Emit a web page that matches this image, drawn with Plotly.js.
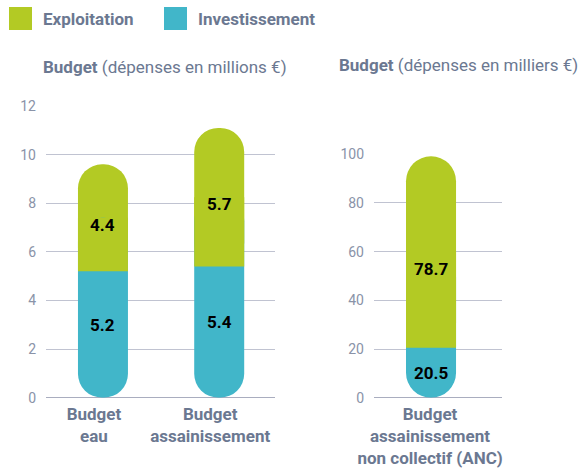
<!DOCTYPE html>
<html>
<head>
<meta charset="utf-8">
<script src="https://cdn.plot.ly/plotly-3.0.1.min.js"></script>
<style>html,body{margin:0;padding:0;background:#fff;}#chart{width:588px;height:468px;}</style>
</head>
<body>
<div id="chart"></div>
<script>
// ---- Data ----
const seriesNames = ['Exploitation', 'Investissement'];
const categoriesLeft = ['Budget<br>eau', 'Budget<br>assainissement'];
const exploitationLeft = [4.4, 5.7];
const investLeft = [5.2, 5.4];
const categoriesRight = ['Budget<br>assainissement<br>non collectif (ANC)'];
const exploitationRight = [78.7];
const investRight = [20.5];
const titleLeft = '<b>Budget</b> (dépenses en millions €)';
const titleRight = '<b>Budget</b> (dépenses en milliers €)';
const tickValsLeft = [0, 2, 4, 6, 8, 10, 12];
const tickValsRight = [0, 20, 40, 60, 80, 100];

// ---- Style ----
const GREEN = '#b3ca24';
const BLUE = '#41b6c9';
const LABEL = '#6b7891';
const TICK = '#8a93a8';
const GRID = '#c0c3d1';
const FONT = 'Roboto, "DejaVu Sans", sans-serif';
const BW = 0.43;

// Pill-shaped stacked bars: green segment rounded on top, blue rounded at the bottom,
// with a flat join between the two segments.
function pill(cats, inv, expl, xa, ya) {
  const common = {type: 'bar', x: cats, width: BW, hoverinfo: 'skip', showlegend: false, xaxis: xa, yaxis: ya};
  return [
    // green segment (rounded ends; its lower end gets covered below)
    Object.assign({}, common, {name: seriesNames[0], base: inv, y: expl,
      marker: {color: GREEN, cornerradius: '50%', line: {width: 0}}}),
    // blue segment, rounded at both ends; its top end is hidden under the flat green piece
    Object.assign({}, common, {name: seriesNames[1], base: inv.map(() => 0), y: inv.map((v, i) => v + expl[i] / 2),
      marker: {color: BLUE, cornerradius: '50%', line: {width: 0}}}),
    // flat green piece starting at the top of the blue segment
    Object.assign({}, common, {name: seriesNames[0], base: inv, y: expl.map(v => v / 2),
      marker: {color: GREEN, cornerradius: 0, line: {width: 0}}})
  ];
}

function labels(cats, inv, expl, xa, ya, shiftBottom, shiftTop) {
  const out = [];
  cats.forEach((c, i) => {
    out.push({xref: xa, yref: ya, x: c, y: inv[i] / 2, yshift: shiftBottom, showarrow: false,
      text: '<b>' + inv[i].toFixed(1) + '</b>', font: {family: FONT, size: 17, color: '#000'}});
    out.push({xref: xa, yref: ya, x: c, y: inv[i] + expl[i] / 2, yshift: shiftTop, showarrow: false,
      text: '<b>' + expl[i].toFixed(1) + '</b>', font: {family: FONT, size: 17, color: '#000'}});
  });
  return out;
}

const data = [].concat(
  pill(categoriesLeft, investLeft, exploitationLeft, 'x', 'y'),
  pill(categoriesRight, investRight, exploitationRight, 'x2', 'y2')
);

const W = 588, H = 468;
const px = v => v / W, py = v => (H - v) / H;

const yBase = {
  showgrid: true, gridcolor: GRID, gridwidth: 1, zeroline: true, zerolinecolor: '#a9adbf', zerolinewidth: 1,
  showline: false, ticks: '', ticklabelstandoff: 9, tickfont: {family: FONT, size: 14, color: TICK}, fixedrange: true
};
const xBase = {
  type: 'category', showgrid: false, zeroline: false, showline: false, ticks: '', ticklabelstandoff: 4,
  tickfont: {family: FONT, size: 17, color: LABEL, weight: 'bold'}, fixedrange: true
};

const legendFont = {family: FONT, size: 17, color: LABEL};
const layout = {
  width: W, height: H,
  margin: {l: 0, r: 0, t: 0, b: 0},
  paper_bgcolor: '#fff', plot_bgcolor: 'rgba(0,0,0,0)',
  barmode: 'overlay', showlegend: false,
  font: {family: FONT, color: LABEL},
  xaxis: Object.assign({}, xBase, {domain: [px(46), px(275)], range: [-0.49, 1.48], anchor: 'y', ticklabelshift: -9}),
  yaxis: Object.assign({}, yBase, {domain: [py(397.7), py(106)], range: [0, 12], tickvals: tickValsLeft, anchor: 'x'}),
  xaxis2: Object.assign({}, xBase, {domain: [px(374), px(502)], range: [-0.49, 0.61], anchor: 'y2', ticklabelshift: -1}),
  yaxis2: Object.assign({}, yBase, {domain: [py(397.7), py(154.3)], range: [0, 100], tickvals: tickValsRight, anchor: 'x2'}),
  shapes: [
    {type: 'rect', xref: 'paper', yref: 'paper', x0: px(9), x1: px(32), y0: py(30), y1: py(7), fillcolor: GREEN, line: {width: 0}},
    {type: 'rect', xref: 'paper', yref: 'paper', x0: px(164), x1: px(187), y0: py(30), y1: py(7), fillcolor: BLUE, line: {width: 0}}
  ],
  annotations: [
    {xref: 'paper', yref: 'paper', x: px(41), y: py(19), xanchor: 'left', yanchor: 'middle', showarrow: false,
     text: '<b>' + seriesNames[0] + '</b>', font: legendFont},
    {xref: 'paper', yref: 'paper', x: px(196), y: py(19), xanchor: 'left', yanchor: 'middle', showarrow: false,
     text: '<b>' + seriesNames[1] + '</b>', font: legendFont},
    {xref: 'paper', yref: 'paper', x: px(164.5), y: py(67), xanchor: 'center', yanchor: 'middle', showarrow: false,
     text: titleLeft, font: legendFont},
    {xref: 'paper', yref: 'paper', x: px(458.5), y: py(65), xanchor: 'center', yanchor: 'middle', showarrow: false,
     text: titleRight, font: legendFont}
  ].concat(
    labels(categoriesLeft, investLeft, exploitationLeft, 'x', 'y', 10, -7),
    labels(categoriesRight, investRight, exploitationRight, 'x2', 'y2', 0, -17)
  )
};

Plotly.newPlot('chart', data, layout, {displayModeBar: false, staticPlot: true});
</script>
</body>
</html>
